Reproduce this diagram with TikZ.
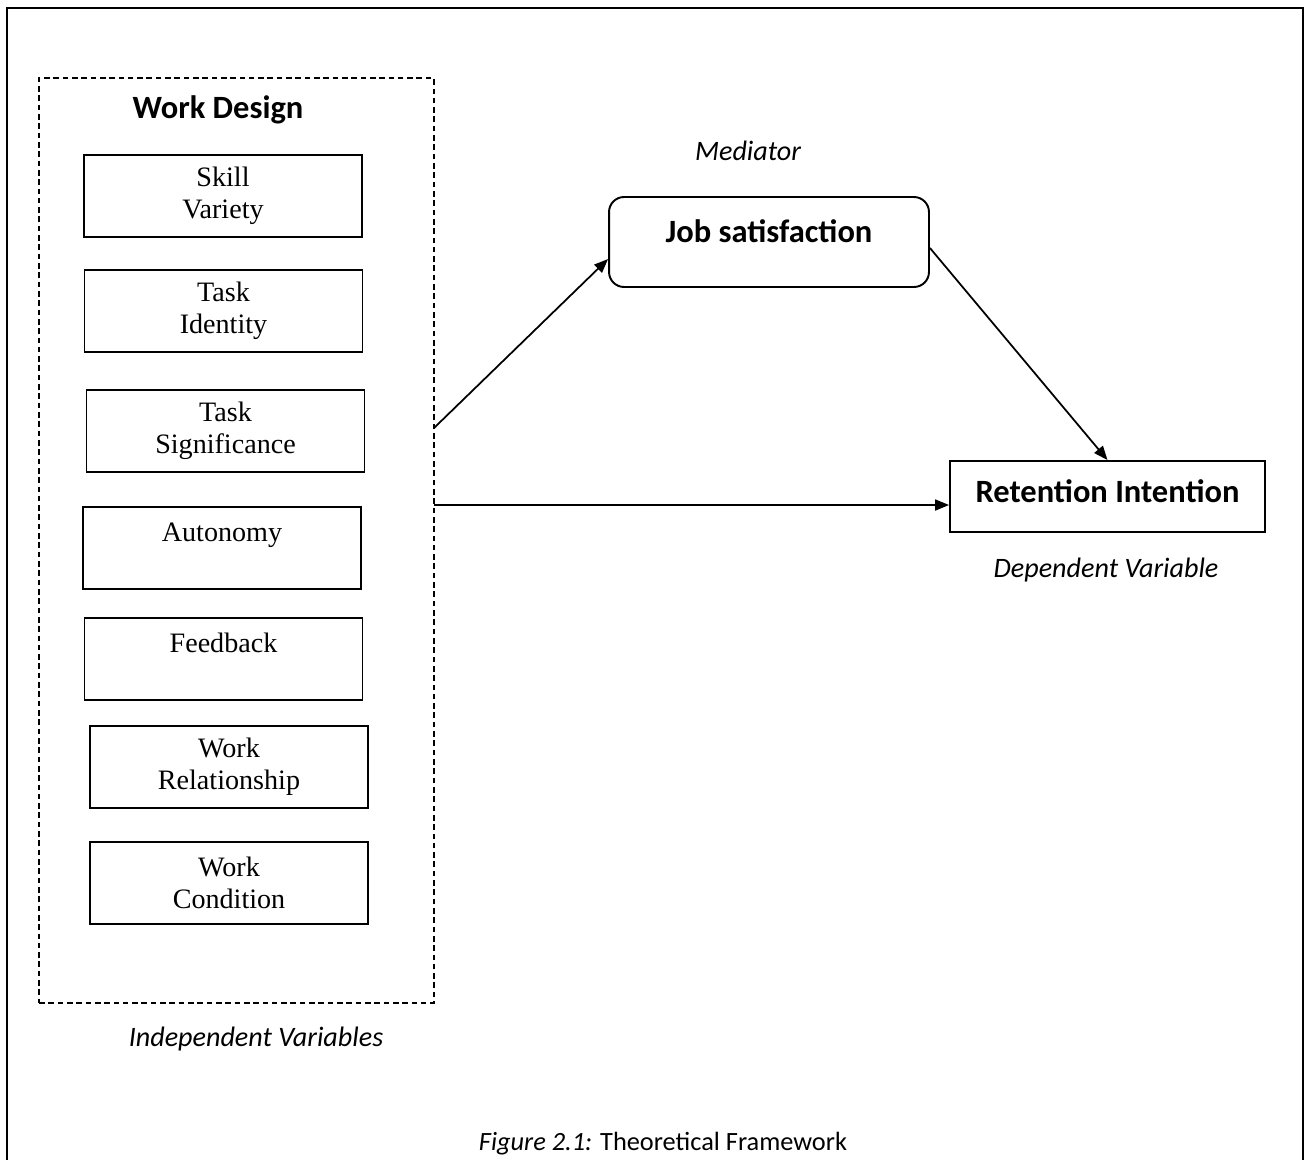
\documentclass[tikz,border=0pt]{standalone}
\usepackage{fontspec}
\setmainfont{Liberation Serif}
\newfontfamily\calfont{Carlito}
\usetikzlibrary{arrows.meta}
\tikzset{
  dimbox/.style={draw, line width=1.1pt, minimum width=5.56cm, minimum height=1.64cm, inner sep=0pt, align=center, font=\fontsize{16}{18.2}\selectfont},
  mainbox/.style={draw, line width=1.1pt, inner sep=0pt, font=\calfont\bfseries\fontsize{18.5}{22}\selectfont},
  varlabel/.style={font=\calfont\itshape\fontsize{16}{19}\selectfont},
  arr/.style={-{Triangle[length=0.28cm,width=0.22cm]}, line width=1pt},
}
\begin{document}
\begin{tikzpicture}[x=0.02cm, y=-0.02cm]
\useasboundingbox (0,0) rectangle (1306,1160);
\draw[line width=1.4pt] (7,1160) -- (7,8) -- (1303,8) -- (1303,1160);
\node[draw, line width=0.8pt, dash pattern=on 3.2pt off 2.1pt, minimum width=7.9cm, minimum height=18.5cm] (wd) at (236.5,540.5) {};
\node[font=\calfont\bfseries\fontsize{18.5}{22}\selectfont] (wdtitle) at (218,110) {Work Design};
\node[dimbox] (sv) at (223,196) {Skill\\Variety};
\node[dimbox] (ti) at (223.5,311) {Task\\Identity};
\node[dimbox] (ts) at (225.5,431) {Task\\Significance};
\node[dimbox] (au) at (222,548) {Autonomy\\~};
\node[dimbox] (fb) at (223.5,659) {Feedback\\~};
\node[dimbox] (wr) at (229,767) {Work\\Relationship};
\node[dimbox] (wc) at (229,883) {Work\\Condition};
\node[varlabel] (indep) at (256,1039) {Independent Variables};
\node[varlabel] (med) at (748,151) {Mediator};
\node[mainbox, rounded corners=0.3cm, minimum width=6.4cm, minimum height=1.8cm, text depth=0.45cm] (js) at (769,242) {Job satisfaction};
\node[mainbox, minimum width=6.3cm, minimum height=1.42cm, text depth=0.23cm] (ri) at (1107.5,496.5) {Retention Intention};
\node[varlabel] (dep) at (1106,570) {Dependent Variable};
\node[font=\calfont\fontsize{15}{18}\selectfont] (caption) at (663,1144) {\textit{Figure 2.1:} Theoretical Framework};
\coordinate (s1) at (434,428);
\coordinate (s2) at (434,505);
\draw[arr] (s1) -- ([yshift=-0.34cm]js.west);
\draw[arr] (s2) -- (s2 -| ri.west);
\draw[arr] ([yshift=-0.12cm]js.east) -- (ri.north);
\end{tikzpicture}
\end{document}
